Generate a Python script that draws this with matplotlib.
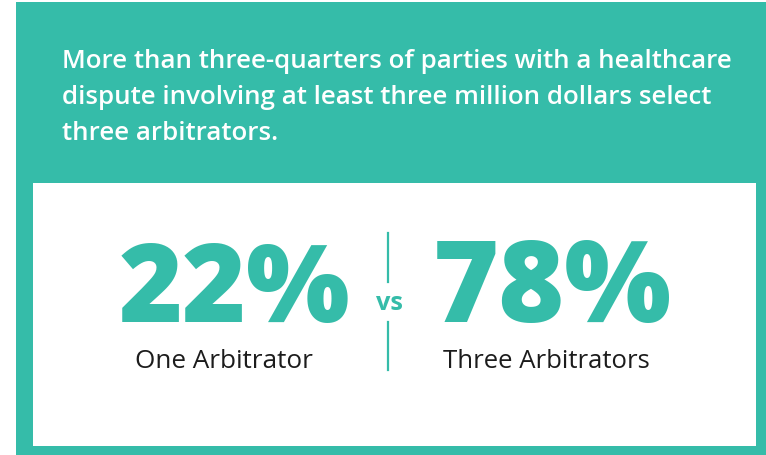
import matplotlib
matplotlib.use('Agg')
import matplotlib.pyplot as plt
from matplotlib.patches import Rectangle

# %% data
headline = ['More than three-quarters of parties with a healthcare',
            'dispute involving at least three million dollars select',
            'three arbitrators.']
shares = [22, 78]
labels = ['One Arbitrator', 'Three Arbitrators']

teal = '#35bca9'
dark = '#1c1c1c'
font = 'Open Sans'

# %% figure, one axes in pixel units over the whole canvas
fig = plt.figure(figsize=(7.66, 4.55), dpi=100)
ax = fig.add_axes([0, 0, 1, 1])
ax.set_xlim(0, 766)
ax.set_ylim(455, 0)
ax.axis('off')
renderer = fig.canvas.get_renderer()


def fit_width(txt, target):
    # rescale a text so its rendered width matches the reference width in px
    w = txt.get_window_extent(renderer).width
    txt.set_fontsize(txt.get_fontsize() * target / w)


# teal card and the white panel inside it
ax.add_patch(Rectangle((16, 2), 750, 453, facecolor=teal, edgecolor='none'))
ax.add_patch(Rectangle((33, 183), 723, 263, facecolor='white', edgecolor='none'))

# headline
head = []
for i, line in enumerate(headline):
    head.append(ax.text(62, 68 + i * 36, line, color='white', fontsize=17,
                        fontfamily=font, fontweight='semibold',
                        va='baseline', ha='left'))
w0 = head[0].get_window_extent(renderer).width
for t in head:
    t.set_fontsize(t.get_fontsize() * 670 / w0)

# the two shares with their labels
num_centres = [234, 552]
lab_centres = [224, 546]
num_widths = [232, 239]
lab_widths = [178, 207]
for i in range(2):
    t = ax.text(num_centres[i], 322, '%d%%' % shares[i], color=teal,
                fontsize=80, fontfamily=font, fontweight='heavy',
                ha='center', va='baseline')
    fit_width(t, num_widths[i])
    t = ax.text(lab_centres[i], 368, labels[i], color=dark, fontsize=16,
                fontfamily=font, fontweight='medium',
                ha='center', va='baseline')
    fit_width(t, lab_widths[i])

# divider with "vs"
ax.plot([388, 388], [233, 282], color=teal, lw=1.6)
ax.plot([388, 388], [322, 370], color=teal, lw=1.6)
vs = ax.text(389, 310, 'vs', color=teal, fontsize=16, fontfamily=font,
             fontweight='bold', ha='center', va='baseline')
fit_width(vs, 27)

fig.savefig('out.png', dpi=100)
